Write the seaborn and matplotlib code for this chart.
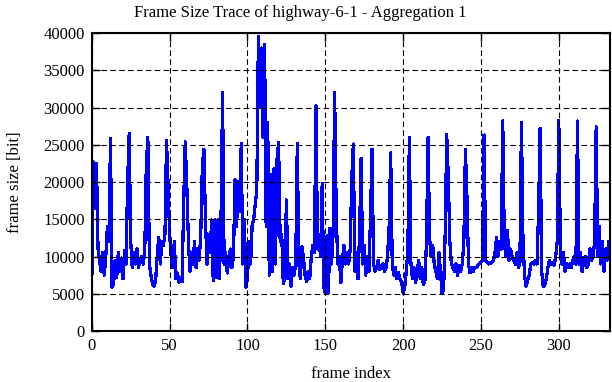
import pandas as pd
import matplotlib
matplotlib.use("Agg")
import matplotlib.pyplot as plt
import seaborn as sns

# frame sizes [bit], frames 0..333
sizes = [
    6600, 22700, 16500, 22500, 11000, 9500, 8000, 10500, 7500, 10000, 14000, 12000,
    25800, 5900, 6300, 9500, 7200, 10500, 8000, 9800, 7000, 10800, 9000, 20000,
    26500, 12000, 8500, 10500, 9000, 11000, 8500, 9500, 10000, 9000, 10500, 22300,
    26000, 9000, 7500, 6300, 6000, 6800, 10000, 12600, 9000, 12000, 11500, 13000,
    25600, 19600, 13000, 10000, 8500, 12000, 7000, 7800, 6500, 7200, 6600, 17000,
    25400, 19700, 12500, 8000, 10500, 9000, 12000, 8500, 11000, 9500, 13000, 22100,
    24400, 15000, 9000, 13000, 10500, 14900, 6800, 14900, 7200, 14900, 7000, 15000,
    32000, 9000, 10500, 7800, 9500, 11000, 8500, 10000, 20300, 14000, 20000, 16000,
    25200, 9000, 15000, 5900, 7000, 12000, 9000, 14200, 15000, 17000, 19000,
    39500, 30000, 38000, 26000, 38500, 14000, 28000, 7500, 21000, 8000, 21800, 9000, 23000,
    25300, 12000, 13000, 6400, 7200, 17600, 7000, 9000, 6000, 8500, 7500, 9000,
    25200, 9000, 7000, 11300, 9700, 7500, 6600, 8000, 7000, 10000, 11500, 10500,
    30200, 11000, 12000, 10000, 19800, 5900, 5100, 12800, 5100, 13800, 9000, 13000,
    32000, 16000, 9000, 10000, 6500, 9500, 11500, 9000, 10500, 9000, 11000, 20500,
    25100, 8000, 10500, 7000, 13000, 23200, 9000, 11500, 7500, 10000, 8000, 15000,
    24400, 9000, 8000, 8500, 9500, 8200, 8800, 9000, 8000, 8500, 10000, 14000,
    23900, 9000, 7500, 8500, 7000, 7800, 7000, 6600, 5100, 5800, 8000, 10500,
    26000, 9000, 7000, 8500, 6500, 8000, 9500, 7000, 8500, 6200, 6800, 12000,
    26000, 12500, 10000, 11500, 9000, 8000, 7000, 10500, 8000, 5100, 5500, 13000,
    26400, 20700, 12000, 9000, 8500, 8000, 9000, 7500, 8800, 8000, 9000, 12000,
    24400, 18000, 9000, 7800, 8500, 8000, 8500, 8500, 8800, 9000, 9200, 9500,
    26300, 9500, 9200, 9000, 9100, 9300, 9500, 10500, 12500, 10000, 12000, 11000,
    28200, 12000, 10000, 13500, 9500, 11000, 10000, 9500, 9000, 10500, 8500, 9000,
    28000, 12000, 7500, 6000, 6800, 7500, 9000, 9200, 9000, 9500, 9000, 16000,
    27200, 8000, 6000, 6200, 7000, 8500, 9500, 9000, 9200, 8800, 10000, 12000,
    28300, 11500, 9000, 10500, 8000, 9000, 8500, 9000, 8500, 9500, 10000, 9000,
    28200, 9000, 10500, 8000, 9500, 10000, 8500, 9000, 11000, 9500, 10000, 12000,
    27400, 10000, 14000, 9000, 12000, 8000, 11000, 9500, 12000, 10000,
]
frames = list(range(len(sizes)))
x_ticks = [0, 50, 100, 150, 200, 250, 300]
y_ticks = [0, 5000, 10000, 15000, 20000, 25000, 30000, 35000, 40000]

df = pd.DataFrame({"frame": frames, "size": sizes})

plt.rcParams["font.family"] = ["Liberation Serif", "DejaVu Serif"]
plt.rcParams["font.size"] = 12

fig = plt.figure(figsize=(6.12, 3.82), dpi=100)
ax = fig.add_axes([0.150, 0.1335, 0.847, 0.780])

sns.lineplot(data=df, x="frame", y="size", color="#0000ff", linewidth=1.6,
             antialiased=False, ax=ax, zorder=1)

ax.set_xlim(0, 333)
ax.set_ylim(0, 40000)
ax.set_xticks(x_ticks)
ax.set_yticks(y_ticks)
ax.tick_params(direction="in", length=6, width=1, top=True, right=True, labelsize=12, pad=5)
ax.set_axisbelow(False)
ax.grid(True, color="black", linestyle=(0, (5, 3)), linewidth=0.8)
for s in ax.spines.values():
    s.set_linewidth(1.5)

ax.set_xlabel("frame index", fontsize=12, labelpad=9)
ax.set_ylabel("frame size [bit]", fontsize=12, labelpad=15)
fig.suptitle("Frame Size Trace of highway-6-1 - Aggregation 1", x=0.49, y=0.965, va="center", fontsize=12)

fig.savefig("out.png", dpi=100)
plt.close(fig)
